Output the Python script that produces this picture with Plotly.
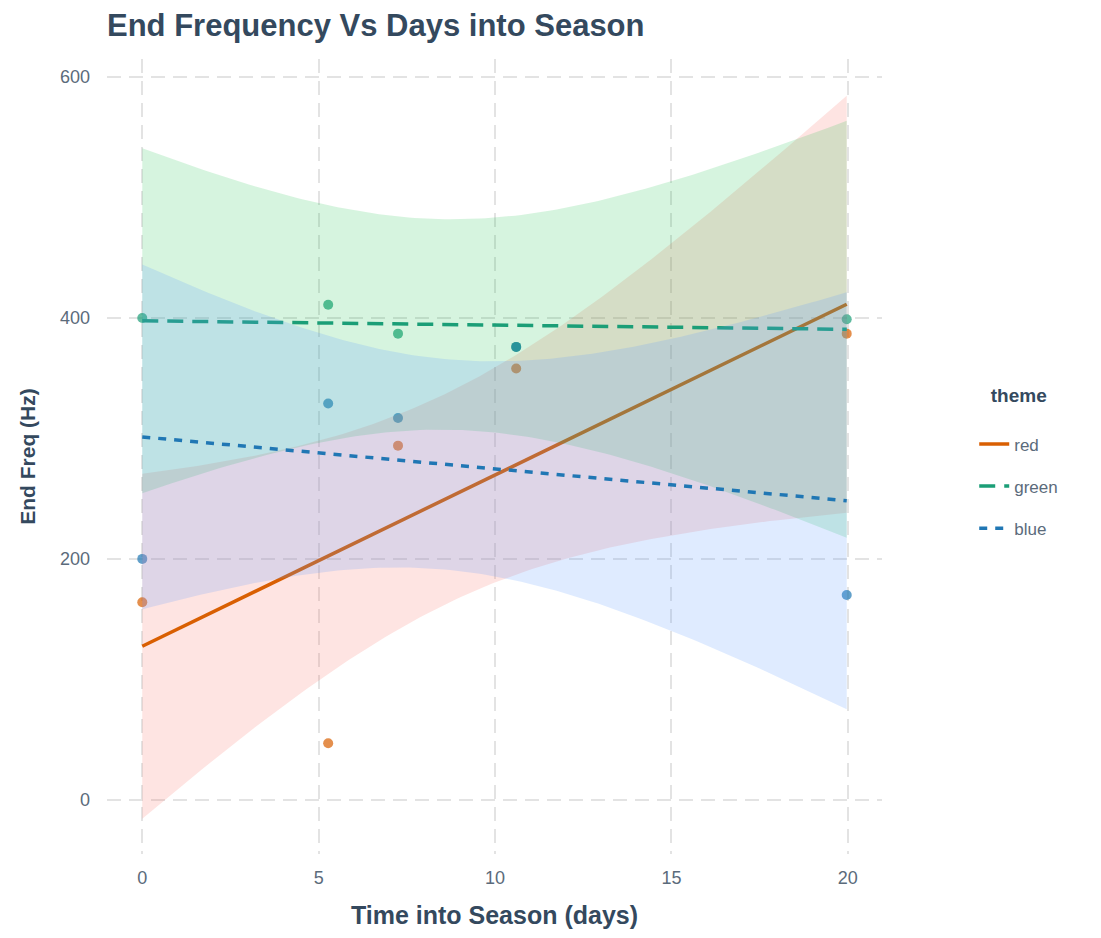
import numpy as np
import plotly.graph_objects as go

# ---------------- data ----------------
days = [0.0, 5.27, 7.25, 10.6, 19.97]
themes = ["red", "green", "blue"]
end_freq_red = [164, 47, 294, 358, 387]
end_freq_green = [400, 411, 387, 376, 399]
end_freq_blue = [200, 329, 317, 376, 170]

x_ticks = [0, 5, 10, 15, 20]
y_ticks = [0, 200, 400, 600]

# ---------------- styles ----------------
point_colors = {"red": "#D95F02", "green": "#1B9E77", "blue": "#1F78B4"}
line_colors = {"red": "#D95F02", "green": "#1B9E77", "blue": "#2077B4"}
band_colors = {"red": "rgba(248,118,109,0.2)",
               "green": "rgba(0,186,56,0.16)",
               "blue": "rgba(97,156,255,0.2)"}
dashes = {"red": "solid", "green": "16px,9px", "blue": "8px,8px"}

TEXT = "#34495E"
TICK = "#5B6B7B"
FONT = "Liberation Sans, Arial, sans-serif"

series = {"red": end_freq_red, "green": end_freq_green, "blue": end_freq_blue}

# ---------------- linear fits with pooled-variance 95% CI ----------------
x = np.array(days, dtype=float)
n = len(x)
xbar = x.mean()
sxx = ((x - xbar) ** 2).sum()
fits = {}
sse = 0.0
for th in themes:
    y = np.array(series[th], dtype=float)
    slope, intercept = np.polyfit(x, y, 1)
    resid = y - (intercept + slope * x)
    sse += (resid ** 2).sum()
    fits[th] = (intercept, slope)
dof = n * len(themes) - 2 * len(themes)
s = np.sqrt(sse / dof)
T_CRIT = 2.262157  # t quantile 0.975, df = 9

xg = np.linspace(x.min(), x.max(), 120)
se = s * np.sqrt(1.0 / n + (xg - xbar) ** 2 / sxx)

fig = go.Figure()

# points first
for th in themes:
    fig.add_trace(go.Scatter(
        x=days, y=series[th], mode="markers",
        marker=dict(size=10, color=point_colors[th], opacity=0.7),
        legendgroup=th, showlegend=False, hoverinfo="x+y"))

# ribbons + lines per group
for th in themes:
    b0, b1 = fits[th]
    fit = b0 + b1 * xg
    lo = fit - T_CRIT * se
    hi = fit + T_CRIT * se
    fig.add_trace(go.Scatter(
        x=np.concatenate([xg, xg[::-1]]),
        y=np.concatenate([hi, lo[::-1]]),
        fill="toself", fillcolor=band_colors[th],
        line=dict(width=0), mode="lines",
        legendgroup=th, showlegend=False, hoverinfo="skip"))
    fig.add_trace(go.Scatter(
        x=xg, y=fit, mode="lines", name=th,
        line=dict(color=line_colors[th], width=3.5, dash=dashes[th]),
        legendgroup=th, showlegend=True))

fig.update_layout(
    width=1101, height=938,
    paper_bgcolor="white", plot_bgcolor="white",
    margin=dict(l=99, r=227, t=51, b=92, autoexpand=False),
    font=dict(family=FONT, color=TICK, size=18),
    title=dict(text="<b>End Frequency Vs Days into Season</b>",
               x=0, xref="paper", xanchor="left",
               y=1 - 17 / 938, yref="container", yanchor="middle",
               font=dict(family=FONT, size=31, color=TEXT)),
    showlegend=True,
    legend=dict(
        title=dict(text="<b>theme</b><br> ", side="top center",
                   font=dict(family=FONT, size=19, color=TEXT)),
        x=1.119, xanchor="left", y=0.600, yanchor="top",
        font=dict(family=FONT, size=17, color=TICK),
        traceorder="grouped", tracegroupgap=17,
        bgcolor="rgba(0,0,0,0)"),
)

grid = dict(showgrid=True, gridcolor="#E3E3E3", gridwidth=2, griddash="14px,8px",
            zeroline=False, showline=False, ticks="",
            tickfont=dict(family=FONT, size=18, color=TICK), automargin=False)

fig.update_xaxes(range=[-1.0, 20.97], tickvals=x_ticks, ticklabelstandoff=11,
                 title=dict(text="<b>Time into Season (days)</b>", standoff=19,
                            font=dict(family=FONT, size=25, color=TEXT)),
                 **grid)
fig.update_yaxes(range=[-45, 615], tickvals=y_ticks, ticklabelstandoff=16,
                 title=dict(text="<b>End Freq (Hz)</b>", standoff=18,
                            font=dict(family=FONT, size=21, color=TEXT)),
                 **grid)

fig.write_html("out.html")
